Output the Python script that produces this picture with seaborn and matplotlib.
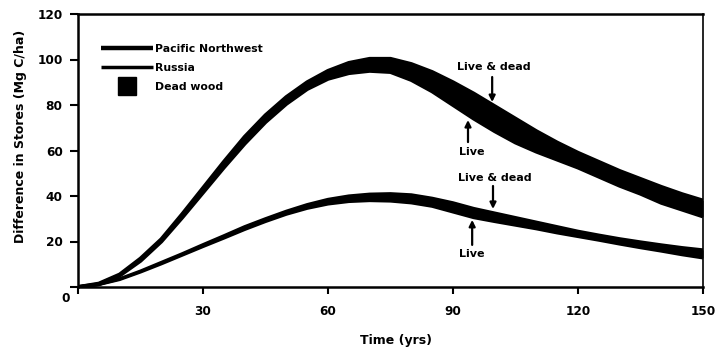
import matplotlib
matplotlib.use('Agg')
import matplotlib.pyplot as plt
import matplotlib.transforms as mtransforms
from matplotlib.lines import Line2D
import pandas as pd
import seaborn as sns

# ---------------- data ----------------
years = [0, 5, 10, 15, 20, 25, 30, 35, 40, 45, 50, 55, 60, 65, 70, 75,
         80, 85, 90, 95, 100, 105, 110, 115, 120, 125, 130, 135, 140, 145, 150]

pnw_live_dead = [0, 1.5, 5.5, 12.5, 21, 32, 43.5, 55, 66, 75.5, 83.5, 90, 95, 98.5,
                 100.3, 100.3, 98, 94.5, 90, 85, 79.5, 74, 68.5, 63.5, 59, 55, 51,
                 47.5, 44, 40.8, 38]
pnw_live = [0, 1.2, 5, 11.5, 20, 30.5, 41.5, 52.5, 63, 72.5, 80.5, 87, 91.5, 94,
            95, 94.5, 91, 86, 80, 74, 68.5, 63.5, 59.5, 56, 52.5, 48.5, 44.5,
            41, 37, 34, 31]

russia_live_dead = [0, 1.2, 3.6, 7, 10.8, 14.6, 18.6, 22.5, 26.5, 30, 33.3, 36.2,
                    38.5, 40, 40.8, 41, 40.5, 39, 37, 34.5, 32.5, 30.5, 28.5, 26.5,
                    24.5, 22.8, 21.2, 19.8, 18.5, 17.3, 16.3]
russia_live = [0, 1.1, 3.3, 6.6, 10.2, 14, 17.8, 21.5, 25.3, 28.8, 32, 34.6, 36.5,
               37.6, 38, 37.8, 37, 35.5, 33, 30.5, 28.8, 27.2, 25.6, 23.8, 22.2,
               20.6, 18.9, 17.3, 15.8, 14.2, 12.8]

x_ticks = [0, 30, 60, 90, 120, 150]
x_tick_labels = ['', '30', '60', '90', '120', '150']
y_ticks = [0, 20, 40, 60, 80, 100, 120]
y_tick_labels = ['0', '20', '40', '60', '80', '100', '120']

legend_labels = ['Pacific Northwest', 'Russia', 'Dead wood']

# annotations: text, text position (t, v), arrow tail, arrow tip
ann_texts = ['Live & dead', 'Live', 'Live & dead', 'Live']
ann_text_xy = [(99.8, 96.7), (94.6, 59.3), (100.1, 47.9), (94.6, 14.5)]
ann_tail_xy = [(99.4, 92.3), (93.6, 63.7), (99.6, 44.4), (94.6, 18.5)]
ann_tip_xy = [(99.4, 81.3), (93.6, 73.4), (99.6, 34.3), (94.6, 29.5)]

# ---------------- style ----------------
sns.set_style('ticks')
plt.rcParams['font.family'] = ['DejaVu Sans']
plt.rcParams['font.weight'] = 'bold'
plt.rcParams['text.color'] = 'black'
plt.rcParams['axes.labelcolor'] = 'black'
plt.rcParams['xtick.color'] = 'black'
plt.rcParams['ytick.color'] = 'black'

fig = plt.figure(figsize=(7.17, 3.51), dpi=100)
ax = fig.add_axes([78 / 717, 1 - 287 / 351, 625 / 717, 273 / 351])

df = pd.DataFrame({
    'Time': years * 4,
    'Value': pnw_live_dead + pnw_live + russia_live_dead + russia_live,
    'Curve': (['PNW live & dead'] * len(years) + ['PNW live'] * len(years)
              + ['Russia live & dead'] * len(years) + ['Russia live'] * len(years)),
})

# dead wood bands
ax.fill_between(years, pnw_live, pnw_live_dead, color='black', lw=0)
ax.fill_between(years, russia_live, russia_live_dead, color='black', lw=0)

for curve, lw in [('PNW live & dead', 2.8), ('PNW live', 2.8),
                  ('Russia live & dead', 2.3), ('Russia live', 2.3)]:
    sns.lineplot(data=df[df['Curve'] == curve], x='Time', y='Value',
                 color='black', lw=lw, ax=ax, legend=False,
                 solid_capstyle='butt', solid_joinstyle='round')

ax.set_xlim(0, 150)
ax.set_ylim(0, 120)
ax.set_xticks(x_ticks)
ax.set_xticklabels(x_tick_labels)
ax.set_yticks(y_ticks)
ax.set_yticklabels(y_tick_labels)

for lab in ax.get_xticklabels() + ax.get_yticklabels():
    lab.set_fontweight('bold')
    lab.set_fontsize(8.7)
    lab.set_color('black')

ax.tick_params(axis='x', direction='out', length=5, width=1.5, pad=8, colors='black')
ax.tick_params(axis='y', direction='out', length=6, width=1.5, pad=5, colors='black')

# shift the "0" y label to the corner like the original
zero_lab = ax.get_yticklabels()[0]
zero_lab.set_transform(zero_lab.get_transform() +
                       mtransforms.ScaledTranslation(7 / 100, -10 / 100, fig.dpi_scale_trans))

for side in ['left', 'bottom', 'top']:
    ax.spines[side].set_linewidth(1.8)
    ax.spines[side].set_color('black')
ax.spines['right'].set_linewidth(1.2)
ax.spines['right'].set_color('black')

ax.set_xlabel('Time (yrs)', fontsize=9, fontweight='bold', color='black')
ax.set_ylabel('Difference in Stores (Mg C/ha)', fontsize=9, fontweight='bold',
              color='black')
ax.xaxis.set_label_coords(0.509, -0.172)
ax.yaxis.set_label_coords(-0.0816, 0.551)

# annotations
for txt, txy, tail, tip in zip(ann_texts, ann_text_xy, ann_tail_xy, ann_tip_xy):
    ax.text(txy[0], txy[1], txt, ha='center', va='center', fontsize=8,
            fontweight='bold', color='black')
    ax.annotate('', xy=tip, xytext=tail,
                arrowprops=dict(arrowstyle='-|>', color='black', lw=1.6,
                                mutation_scale=9, shrinkA=0, shrinkB=0))

handles = [Line2D([], [], color='black', lw=3.2, solid_capstyle='butt'),
           Line2D([], [], color='black', lw=2.5, solid_capstyle='butt'),
           Line2D([], [], color='black', lw=0, marker='s', markersize=13)]
leg = ax.legend(handles, legend_labels, loc='upper left',
                bbox_to_anchor=(0.0368, 0.890), frameon=False,
                borderaxespad=0, borderpad=0, handlelength=4.8,
                handletextpad=0.2, labelspacing=0.83,
                prop={'size': 7.8, 'weight': 'bold'})
for t in leg.get_texts():
    t.set_color('black')

fig.savefig('out.png', dpi=100)
